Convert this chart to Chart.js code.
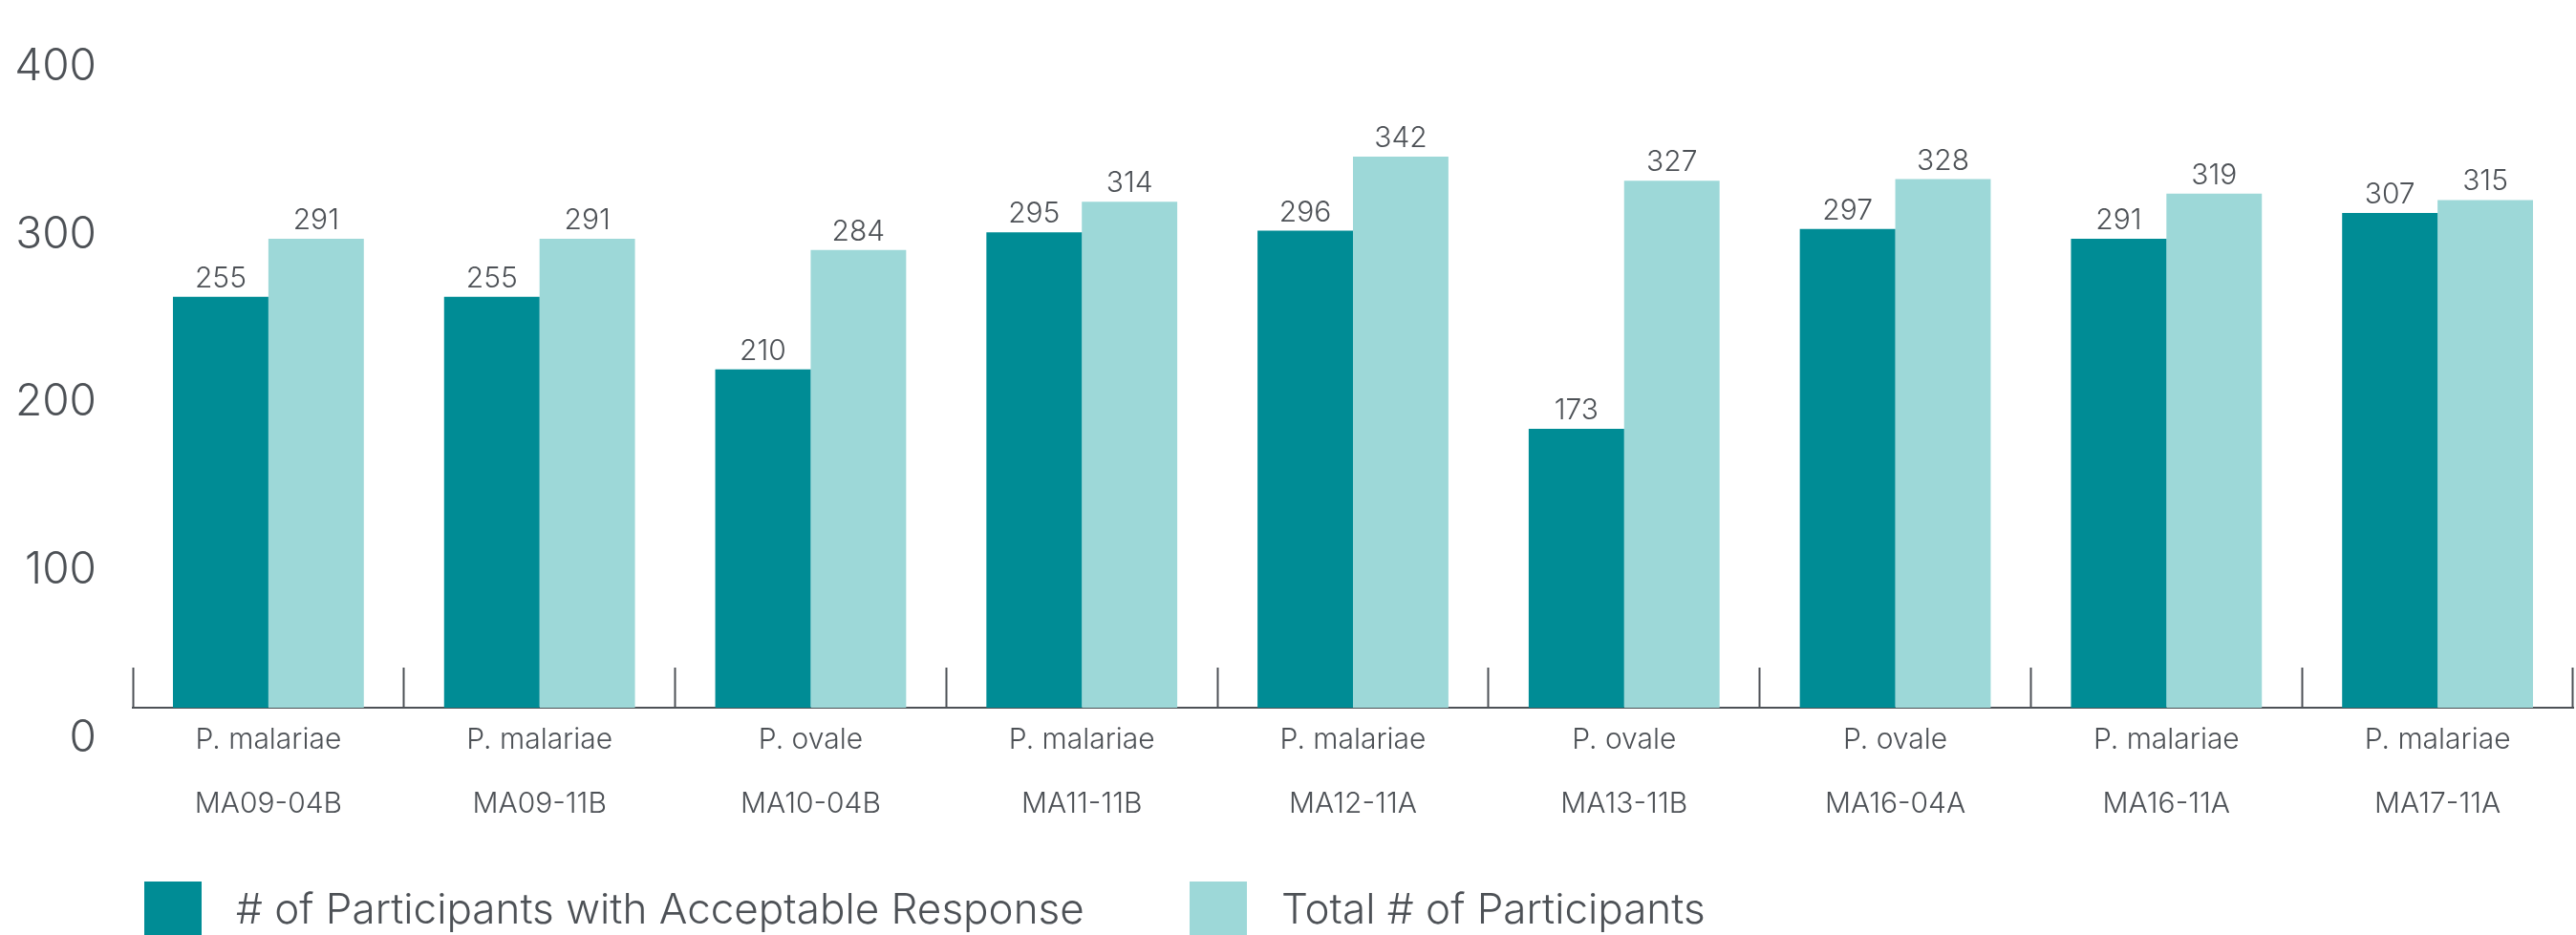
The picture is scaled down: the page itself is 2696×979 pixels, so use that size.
<!DOCTYPE html>
<html>
<head>
<meta charset="utf-8">
<script src="https://cdn.jsdelivr.net/npm/chart.js@4/dist/chart.umd.min.js"></script>
<style>
  html, body { margin: 0; padding: 0; background: #fff; }
  #wrap { position: relative; width: 2696px; height: 979px; overflow: hidden; }
  .item { position: absolute; top: 923px; display: flex; align-items: center; height: 56px;
          font: 300 44px Inter, sans-serif; color: #4d5156; white-space: nowrap; }
  .box { width: 60px; height: 60px; margin-right: 36px; align-self: flex-start; }
</style>
</head>
<body>
<div id="wrap">
  <canvas id="myChart" width="2696" height="979"></canvas>
  <div id="legend"></div>
</div>
<script>
var species = ["P. malariae", "P. malariae", "P. ovale", "P. malariae", "P. malariae", "P. ovale", "P. ovale", "P. malariae", "P. malariae"];
var samples = ["MA09-04B", "MA09-11B", "MA10-04B", "MA11-11B", "MA12-11A", "MA13-11B", "MA16-04A", "MA16-11A", "MA17-11A"];
var acceptable = [255, 255, 210, 295, 296, 173, 297, 291, 307];
var totals = [291, 291, 284, 314, 342, 327, 328, 319, 315];
var yTicks = [0, 100, 200, 300, 400];
var seriesNames = ["# of Participants with Acceptable Response", "Total # of Participants"];

var textColor = "#4d5156";

// value printed over every bar
var barValueLabels = {
  id: "barValueLabels",
  afterDatasetsDraw: function (chart) {
    var ctx = chart.ctx;
    ctx.save();
    ctx.font = "300 30px Inter";
    ctx.fillStyle = textColor;
    ctx.textAlign = "center";
    ctx.textBaseline = "alphabetic";
    chart.data.datasets.forEach(function (ds, i) {
      chart.getDatasetMeta(i).data.forEach(function (bar, j) {
        ctx.fillText(ds.data[j], bar.x, bar.y - 10);
      });
    });
    ctx.restore();
  }
};

var labels = species.map(function (s, i) {
  return [s, samples[i]];
});

var ctx = document.getElementById("myChart").getContext("2d");
var chart = new Chart(ctx, {
  type: "bar",
  data: {
    labels: labels,
    datasets: [
      {
        label: seriesNames[0],
        backgroundColor: "rgb(0, 140, 149)",
        data: acceptable
      },
      {
        label: seriesNames[1],
        backgroundColor: "rgb(157, 216, 216)",
        data: totals
      }
    ]
  },
  plugins: [barValueLabels],
  options: {
    responsive: false,
    animation: false,
    devicePixelRatio: 1,
    categoryPercentage: 0.704,
    barPercentage: 1.0,
    layout: { padding: { top: 66, right: 3, bottom: 104, left: 0 } },
    plugins: {
      legend: { display: false },
      tooltip: { enabled: false }
    },
    scales: {
      x: {
        offset: true,
        grid: {
          offset: true,
          drawOnChartArea: false,
          drawTicks: true,
          tickLength: -42,
          tickWidth: 2,
          tickColor: "#4d5156"
        },
        border: { display: true, color: "#4d5156", width: 2 },
        ticks: {
          padding: 42,
          color: textColor,
          font: { family: "Inter", size: 30, weight: "300", lineHeight: 67 / 30 },
          maxRotation: 0,
          autoSkip: false
        },
        afterFit: function (scale) {
          scale.height = 134;
        }
      },
      y: {
        display: false,
        min: 0,
        max: 400
      },
      // tick labels sit on their own spacing in the original
      yLabels: {
        type: "linear",
        position: "left",
        min: 18.2,
        max: 402.3,
        grid: { display: false },
        border: { display: false },
        ticks: {
          padding: 30,
          autoSkip: false,
          color: textColor,
          font: { family: "Inter", size: 46, weight: "300" }
        },
        afterBuildTicks: function (scale) {
          scale.ticks = yTicks.map(function (v) { return { value: v }; });
        },
        afterFit: function (scale) {
          scale.width = 139;
        }
      }
    }
  }
});

// legend as plain text under the chart
var legendLeft = [151, 1245];
var legend = document.getElementById("legend");
chart.data.datasets.forEach(function (ds, i) {
  var item = document.createElement("div");
  item.className = "item";
  item.style.left = legendLeft[i] + "px";
  var box = document.createElement("div");
  box.className = "box";
  box.style.background = ds.backgroundColor;
  var txt = document.createElement("span");
  txt.textContent = ds.label;
  item.appendChild(box);
  item.appendChild(txt);
  legend.appendChild(item);
});
</script>
</body>
</html>
